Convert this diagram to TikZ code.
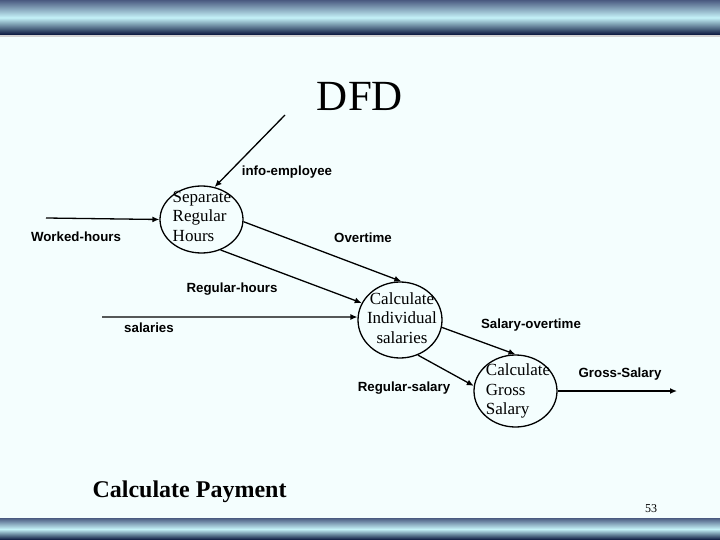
\documentclass[tikz,border=0pt]{standalone}
\usepackage{fontspec}
\setmainfont{Liberation Serif}
\newfontfamily\flowfont{Liberation Sans}
\usepackage{xcolor}
\usepackage{tikz}
\usetikzlibrary{positioning,arrows.meta,shapes.geometric}
\definecolor{slidebg}{HTML}{F4FEFE}
\definecolor{banddark}{HTML}{06123A}
\definecolor{bandedge}{HTML}{4A5A80}
\definecolor{bandlight}{HTML}{C4F2F8}

\begin{document}
\begin{tikzpicture}[
    x=1pt,y=-1pt,
    proc/.style ={draw,ellipse,line width=1.3pt,inner sep=0pt},
    proctxt/.style={inner sep=0pt,font=\fontsize{17}{19.5}\selectfont},
    flow/.style ={inner sep=0pt,font=\flowfont\bfseries\fontsize{13.3}{15}\selectfont},
    arr/.style  ={-{Latex[length=7pt,width=6pt]},line width=1.3pt},
    band/.style ={top color=bandedge,bottom color=banddark,middle color=bandlight},
    ]
    % slide background and bands
    \fill[slidebg] (0,0) rectangle (720,540);
    \useasboundingbox (0,0) rectangle (720,540);
    \shade[band] (0,0) rectangle (720,35);
    \fill[gray!35] (0,35) rectangle (720,37);
    \shade[band] (0,518) rectangle (720,540);

    \node[font=\fontsize{43}{50}\selectfont,anchor=base] (title) at (360,111) {DFD};

    % processes
    \node[proc,minimum width=83pt,minimum height=67pt] (srh) at (201.5,219.5) {};
    \node[proctxt,align=left] (srhtxt) at (202,216) {Separate\\Regular\\Hours};
    \node[proc,minimum width=84pt,minimum height=76pt] (cis) at (400,320) {};
    \node[proctxt,align=center] (cistxt) at (402,318) {Calculate\\Individual\\salaries};
    \node[proc,minimum width=83pt,minimum height=72pt] (cgs) at (515.5,391) {};
    \node[proctxt,align=left] (cgstxt) at (518,391) {Calculate\\Gross\\Salary};

    % free ends
    \coordinate (infoin)   at (285,115);
    \coordinate (workin)   at (46,218);
    \coordinate (salin)    at (102,317);
    \coordinate (grossout) at (677,391);

    % flows
    \draw[arr] (infoin) -- (srh.68);
    \draw[arr] (workin) -- (srh.180);
    \draw[arr] (srh.-3)  -- (cis.88);
    \draw[arr] (srh.-58) -- (cis.156);
    \draw[arr] (salin)  -- (cis.176);
    \draw[arr] (cis.-10) -- (cgs.90);
    \draw[arr] (cis.-63) -- (cgs.173);
    \draw[arr] (cgs.0)  -- (grossout);

    \node[flow] (lblinfo)    at (287,172) {info-employee};
    \node[flow] (lblwork)    at (76,237)  {Worked-hours};
    \node[flow] (lblover)    at (363,238) {Overtime};
    \node[flow] (lblreghrs)  at (232,289) {Regular-hours};
    \node[flow] (lblsal)     at (149,328) {salaries};
    \node[flow] (lblregsal)  at (404,388) {Regular-salary};
    \node[flow] (lblsalover) at (531,325) {Salary-overtime};
    \node[flow] (lblgross)   at (620,374) {Gross-Salary};

    \node[font=\bfseries\fontsize{24}{28}\selectfont,anchor=base west] (caption) at (89,497) {Calculate Payment};
    \node[font=\fontsize{12}{14}\selectfont,anchor=base] (pageno) at (651,512) {53};
\end{tikzpicture}
\end{document}
